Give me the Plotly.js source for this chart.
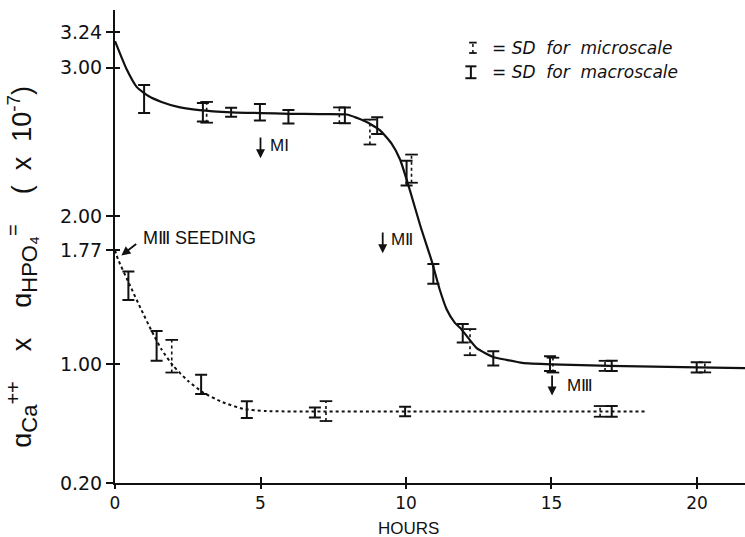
<!DOCTYPE html>
<html>
<head>
<meta charset="utf-8">
<script src="https://cdn.plot.ly/plotly-3.0.1.min.js"></script>
<style>html,body{margin:0;padding:0;background:#fff;}#chart{width:745px;height:537px;}</style>
</head>
<body>
<div id="chart"></div>
<script>
// ---- data ----
// fitted solid curve (upper)
var curveX = [0, 0.4, 0.75, 1.15, 1.6, 2.2, 2.9, 4, 5, 6, 7, 7.96, 8.6, 9.1, 9.5, 9.8, 10.14, 10.5, 10.88, 11.15, 11.40, 11.68, 11.91, 12.43, 13.0, 13.46, 14.0, 15, 17, 20, 21.65];
var curveY = [3.18, 2.99, 2.87, 2.81, 2.77, 2.735, 2.715, 2.70, 2.695, 2.69, 2.688, 2.685, 2.64, 2.58, 2.49, 2.38, 2.17, 1.93, 1.70, 1.51, 1.37, 1.28, 1.236, 1.11, 1.05, 1.03, 1.01, 1.0, 0.99, 0.98, 0.975];
// dotted curve (seeded with MIII)
var seedCurveX = [0, 0.1, 0.52, 0.9, 1.26, 1.6, 2.0, 2.5, 3.03, 3.7, 4.41, 5.2, 10, 18.3];
var seedCurveY = [1.77, 1.71, 1.53, 1.37, 1.225, 1.10, 0.99, 0.89, 0.81, 0.745, 0.70, 0.685, 0.683, 0.683];

// macroscale points with SD (upper curve)
var macroX  = [1.0, 3.02, 3.99, 4.98, 5.96, 7.9, 9.01, 10.02, 10.94, 11.95, 13.0, 14.95, 17.07, 19.99];
var macroY  = [2.79, 2.70, 2.70, 2.70, 2.67, 2.68, 2.61, 2.29, 1.61, 1.21, 1.04, 1.005, 0.99, 0.98];
var macroSD = [0.095, 0.062, 0.03, 0.056, 0.045, 0.053, 0.056, 0.084, 0.067, 0.062, 0.048, 0.05, 0.034, 0.034];
// microscale points with SD (upper curve)
var microX  = [3.15, 7.71, 8.76, 10.19, 12.2, 15.05, 16.84, 20.27];
var microY  = [2.70, 2.68, 2.567, 2.32, 1.15, 0.995, 0.99, 0.98];
var microSD = [0.07, 0.053, 0.084, 0.095, 0.088, 0.05, 0.034, 0.034];
// seeding curve points
var seedMacroX  = [0.46, 1.43, 2.96, 4.53, 6.87, 9.97, 17.07];
var seedMacroY  = [1.53, 1.125, 0.865, 0.695, 0.675, 0.683, 0.683];
var seedMacroSD = [0.096, 0.10, 0.065, 0.056, 0.034, 0.032, 0.036];
var seedMicroX  = [1.95, 7.25, 16.67];
var seedMicroY  = [1.055, 0.685, 0.683];
var seedMicroSD = [0.11, 0.067, 0.036];

// axis ticks
var xTickVals = [0, 5, 10, 15, 20];
var xTickText = ['0', '5', '10', '15', '20'];
var yTickVals = [0.20, 1.00, 1.77, 2.00, 3.00, 3.24];
var yTickText = ['0.20', '1.00', '1.77', '2.00', '3.00', '3.24'];

// ---- helpers ----
function macroTrace(xs, ys, sd) {
  return {x: xs, y: ys, type: 'scatter', mode: 'markers', showlegend: false, hoverinfo: 'skip',
    marker: {size: 1, color: 'rgba(0,0,0,0)'},
    error_y: {type: 'data', array: sd, visible: true, color: '#111', thickness: 2, width: 6}};
}
function microStems(xs, ys, sd) {
  var sx = [], sy = [];
  for (var i = 0; i < xs.length; i++) { sx.push(xs[i], xs[i], null); sy.push(ys[i] - sd[i], ys[i] + sd[i], null); }
  return {x: sx, y: sy, type: 'scatter', mode: 'lines', showlegend: false, hoverinfo: 'skip',
    line: {color: '#111', width: 1.6, dash: 'dot'}};
}
function microCaps(xs, ys, sd) {
  var cx = [], cy = [];
  for (var i = 0; i < xs.length; i++) { cx.push(xs[i], xs[i]); cy.push(ys[i] - sd[i], ys[i] + sd[i]); }
  return {x: cx, y: cy, type: 'scatter', mode: 'markers', showlegend: false, hoverinfo: 'skip',
    marker: {symbol: 'line-ew', size: 9, color: '#111', line: {color: '#111', width: 1.8}}};
}

var X_RANGE = [0, 21.65], Y_RANGE = [0.2, 3.39];

var traces = [
  {x: curveX, y: curveY, type: 'scatter', mode: 'lines', showlegend: false, hoverinfo: 'skip',
   line: {color: '#111', width: 2.2, shape: 'spline', smoothing: 0.5}},
  {x: seedCurveX, y: seedCurveY, type: 'scatter', mode: 'lines', showlegend: false, hoverinfo: 'skip',
   line: {color: '#111', width: 2, dash: 'dot', shape: 'spline', smoothing: 0.5}},
  macroTrace(macroX, macroY, macroSD),
  macroTrace(seedMacroX, seedMacroY, seedMacroSD),
  microStems(microX, microY, microSD),
  microCaps(microX, microY, microSD),
  microStems(seedMicroX, seedMicroY, seedMicroSD),
  microCaps(seedMicroX, seedMicroY, seedMicroSD),
  // invisible anchor for the overlay axes that draw the inner half of the crossing ticks
  {x: [X_RANGE[0]], y: [Y_RANGE[0]], xaxis: 'x2', yaxis: 'y2', type: 'scatter', mode: 'markers',
   marker: {opacity: 0}, showlegend: false, hoverinfo: 'skip'}
];

var numFont = 'Liberation Sans, Arial, sans-serif';
function arrow(hx, hy, tx, ty) {
  return {x: hx, y: hy, ax: tx, ay: ty, xref: 'x', yref: 'y', axref: 'x', ayref: 'y',
    text: '', showarrow: true, arrowhead: 2, arrowsize: 1, arrowwidth: 1.8, arrowcolor: '#111'};
}
function label(x, y, t, sz) {
  return {x: x, y: y, xref: 'x', yref: 'y', text: t, showarrow: false, xanchor: 'left', yanchor: 'middle',
    font: {family: numFont, size: sz || 17, color: '#111'}};
}

var legFont = {family: 'DejaVu Sans, sans-serif', size: 17, color: '#111'};
var annotations = [
  arrow(5.0, 2.39, 5.0, 2.54), label(5.25, 2.475, 'MI'),
  arrow(9.2, 1.75, 9.2, 1.90), label(9.4, 1.84, 'MⅡ'),
  arrow(15.02, 0.79, 15.02, 0.935), label(15.45, 0.855, 'MⅢ'),
  arrow(0.22, 1.735, 0.78, 1.82), label(0.88, 1.85, 'MⅢ SEEDING', 18),
  {x: 12.9, y: 3.135, xref: 'x', yref: 'y', text: '<i>= SD  for  microscale</i>', showarrow: false, xanchor: 'left', yanchor: 'middle', font: legFont},
  {x: 12.9, y: 2.97, xref: 'x', yref: 'y', text: '<i>= SD  for  macroscale</i>', showarrow: false, xanchor: 'left', yanchor: 'middle', font: legFont},
  {x: 10.1, y: -0.071, xref: 'x', yref: 'paper', text: 'HOURS', showarrow: false, xanchor: 'center', yanchor: 'top',
   font: {family: numFont, size: 17, color: '#111'}},
  {x: -0.147, y: 0.458, xref: 'paper', yref: 'paper', textangle: -90, showarrow: false, xanchor: 'center', yanchor: 'middle',
   text: 'ɑ<sub><span style="font-size:22px">Ca</span></sub><sup><span style="font-size:20px">++</span></sup>    x    ɑ<sub><span style="font-size:22px">HPO₄</span></sub><sup><span style="font-size:20px">=</span></sup>    (  x  10<sup><span style="font-size:19px">-7</span></sup>)',
   font: {family: numFont, size: 27, color: '#111'}}
];

// legend I-beam symbols
var shapes = [
  {type: 'line', xref: 'x', yref: 'y', x0: 12.3, x1: 12.3, y0: 3.10, y1: 3.17, line: {color: '#111', width: 1.5, dash: 'dot'}},
  {type: 'line', xref: 'x', yref: 'y', x0: 12.17, x1: 12.43, y0: 3.10, y1: 3.10, line: {color: '#111', width: 1.8}},
  {type: 'line', xref: 'x', yref: 'y', x0: 12.17, x1: 12.43, y0: 3.17, y1: 3.17, line: {color: '#111', width: 1.8}},
  {type: 'line', xref: 'x', yref: 'y', x0: 12.23, x1: 12.23, y0: 2.93, y1: 3.01, line: {color: '#111', width: 2}},
  {type: 'line', xref: 'x', yref: 'y', x0: 12.04, x1: 12.42, y0: 2.93, y1: 2.93, line: {color: '#111', width: 2}},
  {type: 'line', xref: 'x', yref: 'y', x0: 12.04, x1: 12.42, y0: 3.01, y1: 3.01, line: {color: '#111', width: 2}}
];

var layout = {
  width: 745, height: 537,
  margin: {l: 115, r: 0, t: 10, b: 54},
  paper_bgcolor: '#fff', plot_bgcolor: '#fff',
  showlegend: false,
  xaxis: {range: X_RANGE, tickvals: xTickVals, ticktext: xTickText, ticks: 'outside', ticklen: 4, tickwidth: 2,
    tickcolor: '#111', showline: true, linecolor: '#111', linewidth: 2, showgrid: false, zeroline: false,
    tickfont: {family: 'DejaVu Sans, sans-serif', size: 17, color: '#111'}},
  yaxis: {range: Y_RANGE, tickvals: yTickVals, ticktext: yTickText, ticks: 'outside', ticklen: 7, tickwidth: 2,
    tickcolor: '#111', showline: true, linecolor: '#111', linewidth: 2, showgrid: false, zeroline: false,
    tickfont: {family: 'DejaVu Sans, sans-serif', size: 19, color: '#111'}},
  xaxis2: {overlaying: 'x', anchor: 'y2', range: X_RANGE, tickvals: xTickVals, ticks: 'inside', ticklen: 6, tickwidth: 2,
    tickcolor: '#111', showticklabels: false, showline: false, showgrid: false, zeroline: false},
  yaxis2: {overlaying: 'y', anchor: 'x2', range: Y_RANGE, tickvals: yTickVals, ticks: 'inside', ticklen: 5, tickwidth: 2,
    tickcolor: '#111', showticklabels: false, showline: false, showgrid: false, zeroline: false},
  annotations: annotations,
  shapes: shapes
};

Plotly.newPlot('chart', traces, layout, {staticPlot: true, displayModeBar: false});
</script>
</body>
</html>
